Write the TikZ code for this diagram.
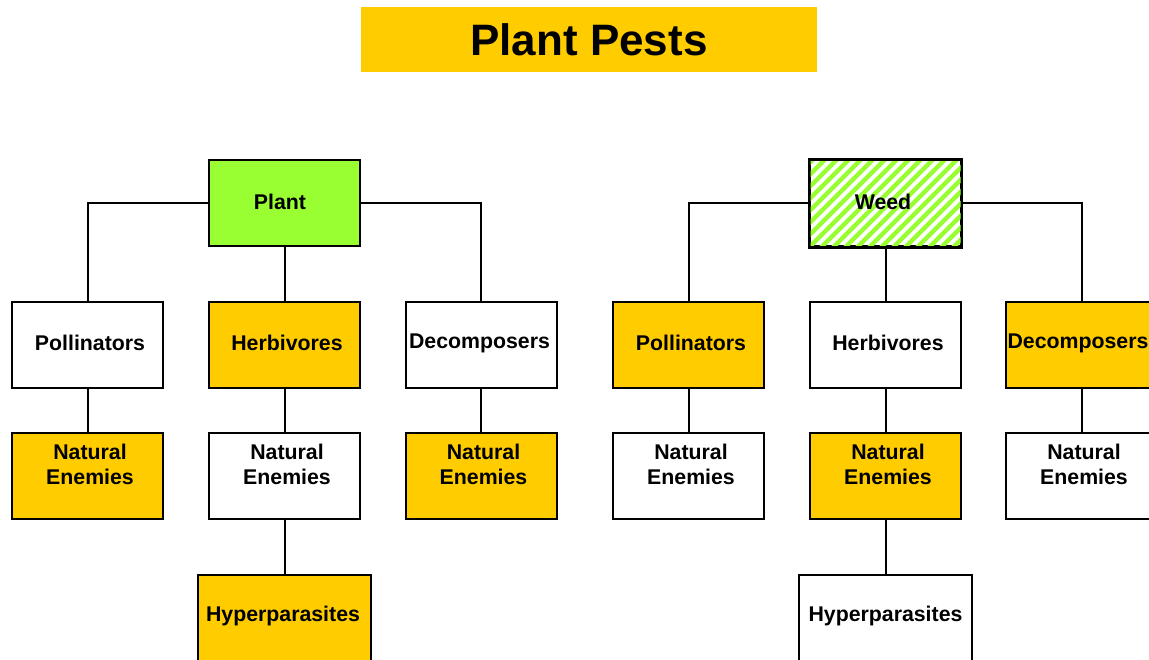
\documentclass[tikz,border=0pt]{standalone}
\usepackage{fontspec}
\setmainfont{Liberation Sans}
\usetikzlibrary{calc}
\definecolor{pestyellow}{HTML}{FFCC00}
\definecolor{plantgreen}{HTML}{99FF33}
\tikzset{
  box/.style={draw=black, line width=2pt, minimum width=151pt, minimum height=86pt, inner sep=0pt, fill=white},
  ybox/.style={box, fill=pestyellow},
  widebox/.style={minimum width=173pt},
  lbl/.style={font=\fontsize{21.3}{25}\selectfont\bfseries, align=center, inner sep=0pt, xshift=2.5pt},
  link/.style={draw=black, line width=2pt},
  stripe/.style={draw=plantgreen, line width=4.3pt}
}
\begin{document}
\begin{tikzpicture}[x=1pt, y=-1pt]
\useasboundingbox (0,0) rectangle (1149,660);
\fill[white] (0,0) rectangle (1149,660);

% title banner
\node[fill=pestyellow, minimum width=456pt, minimum height=65pt, inner sep=0pt,
      font=\fontsize{44}{50}\selectfont\bfseries] (title) at (589,39.5) {Plant Pests};

% ---- left tree ----
\node[box, fill=plantgreen] (plant) at (284.5,203.5) {};
\node[lbl, xshift=-7pt, yshift=2pt] at (plant.center) {Plant};

\node[box] (lpoll) at (87.5,345) {};
\node[ybox] (lherb) at (284.5,345) {};
\node[box] (ldec) at (481,345) {};
\node[lbl, yshift=2pt] at (lpoll.center) {Pollinators};
\node[lbl, yshift=2pt] at (lherb.center) {Herbivores};
\node[lbl, xshift=-4pt, yshift=2pt] at (ldec.center) {Decomposers};

\node[ybox] (lne1) at (87.5,476) {};
\node[box] (lne2) at (284.5,476) {};
\node[ybox] (lne3) at (481,476) {};
\foreach \n in {lne1,lne2,lne3}
  \node[lbl, yshift=11.5pt] at (\n.center) {Natural\\Enemies};

\node[ybox, widebox] (lhyp) at (284.5,618) {};
\node[lbl, yshift=2pt, xshift=-4pt] at (lhyp.center) {Hyperparasites};

\draw[link] (plant.west) -| (lpoll.north);
\draw[link] (plant.east) -| (ldec.north);
\draw[link] (plant.south) -- (lherb.north);
\draw[link] (lpoll.south) -- (lne1.north);
\draw[link] (lherb.south) -- (lne2.north);
\draw[link] (ldec.south) -- (lne3.north);
\draw[link] (lne2.south) -- (lhyp.north);

% ---- right tree ----
\node[box] (weed) at (885.5,203.5) {};
% diagonal green stripes inside the weed box, then its frame again on top
\begin{scope}
  \clip ($(weed.south west)+(1.5,-1.5)$) rectangle ($(weed.north east)+(-1.5,1.5)$);
  \foreach \k in {-8,...,14}
    \draw[stripe] ($(weed.south west)+(\k*12,0)$) -- ++(100,-100);
\end{scope}
\draw[line width=2.2pt, draw=black] (weed.south west) rectangle (weed.north east);
\node[lbl, xshift=-5pt, yshift=2pt] at (weed.center) {Weed};

\node[ybox] (rpoll) at (688.5,345) {};
\node[box] (rherb) at (885.5,345) {};
\node[ybox] (rdec) at (1081.5,345) {};
\node[lbl, yshift=2pt] at (rpoll.center) {Pollinators};
\node[lbl, yshift=2pt] at (rherb.center) {Herbivores};
\node[lbl, xshift=-6pt, yshift=2pt] at (rdec.center) {Decomposers};

\node[box] (rne1) at (688.5,476) {};
\node[ybox] (rne2) at (885.5,476) {};
\node[box] (rne3) at (1081.5,476) {};
\foreach \n in {rne1,rne2,rne3}
  \node[lbl, yshift=11.5pt] at (\n.center) {Natural\\Enemies};

\node[box, widebox] (rhyp) at (885.5,618) {};
\node[lbl, yshift=2pt, xshift=-2.5pt] at (rhyp.center) {Hyperparasites};

\draw[link] (weed.west) -| (rpoll.north);
\draw[link] (weed.east) -| (rdec.north);
\draw[link] (weed.south) -- (rherb.north);
\draw[link] (rpoll.south) -- (rne1.north);
\draw[link] (rherb.south) -- (rne2.north);
\draw[link] (rdec.south) -- (rne3.north);
\draw[link] (rne2.south) -- (rhyp.north);
\end{tikzpicture}
\end{document}
